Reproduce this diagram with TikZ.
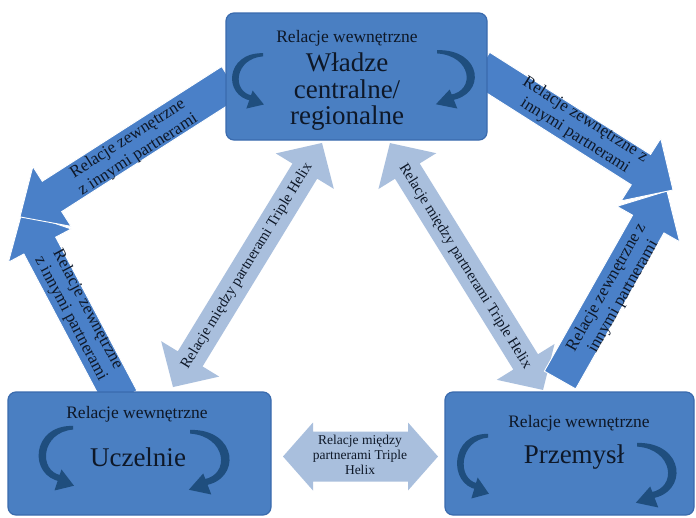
\documentclass[tikz,border=0pt]{standalone}
\usepackage{fontspec}
\setmainfont{Liberation Serif}
\usetikzlibrary{arrows.meta}

\definecolor{boxblue}{HTML}{4A7FC2}
\definecolor{boxedge}{HTML}{3A6BAE}
\definecolor{flowblue}{HTML}{4A80C8}
\definecolor{helixblue}{HTML}{A9BFDD}
\definecolor{loopblue}{HTML}{1F4E7E}
\definecolor{ink}{HTML}{0E1828}

% single block arrow: style, centre, angle, length, shaft width, head width, head length
\newcommand{\singleblock}[7]{%
  \begin{scope}[shift={(#2)},rotate=#3]
    \filldraw[#1] (-#4/2,-#5/2) -- (#4/2-#7,-#5/2) -- (#4/2-#7,-#6/2) -- (#4/2,0)
      -- (#4/2-#7,#6/2) -- (#4/2-#7,#5/2) -- (-#4/2,#5/2) -- cycle;
  \end{scope}}
% double block arrow: same parameters
\newcommand{\doubleblock}[7]{%
  \begin{scope}[shift={(#2)},rotate=#3]
    \fill[#1] (-#4/2,0) -- (-#4/2+#7,-#6/2) -- (-#4/2+#7,-#5/2) -- (#4/2-#7,-#5/2)
      -- (#4/2-#7,-#6/2) -- (#4/2,0) -- (#4/2-#7,#6/2) -- (#4/2-#7,#5/2)
      -- (-#4/2+#7,#5/2) -- (-#4/2+#7,#6/2) -- cycle;
  \end{scope}}

\tikzset{
  partner/.style={draw=boxedge, line width=1.2pt, fill=boxblue, rounded corners=8pt, inner sep=0pt},
  outward/.style={fill=flowblue, draw=white, line width=0.9pt},
  helix/.style={fill=helixblue},
  flowtext/.style={text=ink, inner sep=0pt, align=center, font={\fontsize{17}{19}\selectfont}},
  helixtext/.style={text=ink, inner sep=0pt, align=center, font={\fontsize{15}{16}\selectfont}},
  smalltext/.style={text=ink, inner sep=0pt, align=center, font={\fontsize{13.5}{15}\selectfont}},
  inner/.style={text=ink, inner sep=0pt, font={\fontsize{17.5}{19}\selectfont}},
  title/.style={text=ink, inner sep=0pt, align=center, font={\fontsize{27}{26.5}\selectfont}},
  % tapered curved arrow, drawn from its upper end; mirror with xscale=-1
  pics/cyclearrow/.style={code={
    \fill[loopblue] (0,-2) .. controls (-42,-3) and (-45,46) .. (-12,51)
      -- (-12,45) .. controls (-35,41) and (-32,4) .. (0,1.5) -- cycle;
    \fill[loopblue] (-11.5,39.5) -- (1,55) -- (-18.5,59.5) -- cycle;
  }}
}

\begin{document}
\begin{tikzpicture}[x=1pt,y=-1pt]
\useasboundingbox (0,0) rectangle (696,517);
\fill[white] (0,0) rectangle (696,517);

% Triple Helix links
\doubleblock{helix}{247.5,265}{58.6}{286}{29}{68}{33}
\doubleblock{helix}{466.5,266.5}{-58.2}{290.5}{29}{68}{33}
\doubleblock{helix}{360.5,456.5}{0}{155}{50}{68}{30}

% links to other partners
\singleblock{outward}{71.5,305.5}{117.9}{211.6}{36}{71}{38}
\singleblock{outward}{125.7,149.3}{212.6}{251}{36}{71}{38}
\singleblock{outward}{613.5,285.5}{60.5}{217.2}{36}{72}{38}
\singleblock{outward}{576.5,128.75}{-32.4}{228.6}{36}{74}{38}

% partner boxes
\node[partner, minimum width=261, minimum height=127] (wladze) at (356.5,76.5) {};
\node[partner, minimum width=263, minimum height=123] (uczelnie) at (139.5,453.5) {};
\node[partner, minimum width=249, minimum height=123] (przemysl) at (569.5,453.5) {};

% internal relation loops
\pic[xscale=0.9, yscale=0.9] at (263,55) {cyclearrow};
\pic[xscale=-1.1, yscale=0.95] at (437,52) {cyclearrow};
\pic[xscale=1.0, yscale=1.05] at (73,428) {cyclearrow};
\pic[xscale=-1.15, yscale=1.05] at (190,432) {cyclearrow};
\pic[xscale=0.9, yscale=1.05] at (488,436) {cyclearrow};
\pic[xscale=-1.15, yscale=1.05] at (637,445) {cyclearrow};

% box texts
\node[inner] (wIn) at (347,38) {Relacje wewnętrzne};
\node[title] (wName) at (347,92) {Władze\\centralne/\\regionalne};
\node[inner] (uIn) at (137,414) {Relacje wewnętrzne};
\node[title] (uName) at (138,457) {Uczelnie};
\node[inner] (pIn) at (579,423) {Relacje wewnętrzne};
\node[title] (pName) at (574,457) {Przemysł};

% arrow texts
\node[flowtext, rotate=32.6] (tA) at (133,147) {Relacje zewnętrzne\\z innymi partnerami};
\node[flowtext, rotate=-62.1] (tB) at (79,314) {Relacje zewnętrzne\\z innymi partnerami};
\node[flowtext, rotate=-32.4] (tC) at (580,128) {Relacje zewnętrzne z\\innymi partnerami};
\node[flowtext, rotate=60.5] (tD) at (615,292) {Relacje zewnętrzne z\\innymi partnerami};
\node[helixtext, rotate=58.6] (tE) at (247,266) {Relacje między partnerami Triple Helix};
\node[helixtext, rotate=-58.2] (tF) at (465,266.5) {Relacje między partnerami Triple Helix};
\node[smalltext] (tG) at (360,455) {Relacje między\\partnerami Triple\\Helix};
\end{tikzpicture}
\end{document}
